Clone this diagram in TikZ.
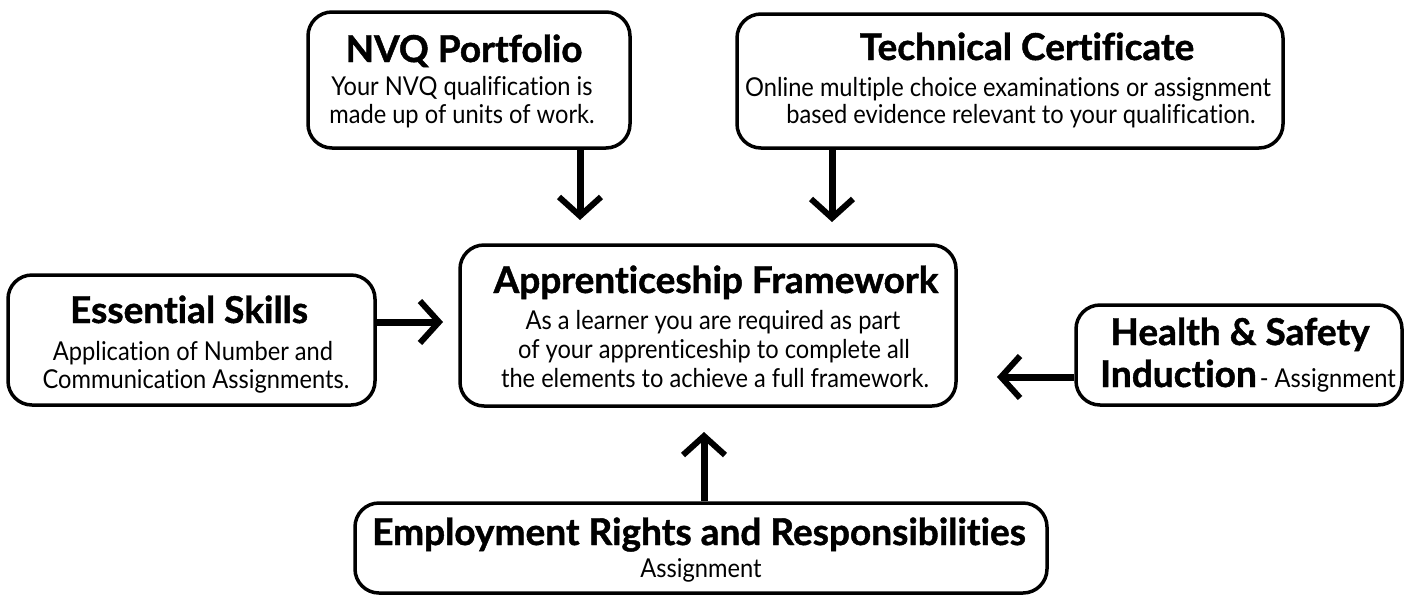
\documentclass[tikz,border=0pt]{standalone}
\usepackage{fontspec}
\setmainfont{Lato}[Ligatures=NoCommon,BoldFeatures={FakeBold=1.2}]
\newfontfamily\bodyfam{Lato}[FakeStretch=0.91,Ligatures=NoCommon]
\usetikzlibrary{arrows.meta}
\newcommand{\ttl}{\fontsize{37}{40}\selectfont\bfseries}
\newcommand{\bdy}{\bodyfam\fontsize{26}{28}\selectfont}
\begin{document}
\begin{tikzpicture}[x=1pt,y=-1pt,
  box/.style={draw, line width=3.5pt, rounded corners=24pt, inner sep=0pt},
  ttlt/.style={anchor=base, inner sep=0pt, font=\ttl},
  bdyt/.style={anchor=base, inner sep=0pt, font=\bdy},
  arr/.style={line width=7pt, -{Straight Barb[length=19pt,width=42pt,line width=6pt]}}]
\useasboundingbox (0,0) rectangle (1405,598);
% boxes
\node[box, minimum width=322pt, minimum height=136pt] (nvq) at (469,80) {};
\node[box, minimum width=546pt, minimum height=134pt] (tech) at (1010,81) {};
\node[box, minimum width=496pt, minimum height=161pt] (app) at (708,325.5) {};
\node[box, minimum width=367pt, minimum height=130pt] (ess) at (191.5,340) {};
\node[box, minimum width=326pt, minimum height=100pt] (hs) at (1239,355) {};
\node[box, minimum width=692pt, minimum height=90pt] (emp) at (701,548) {};
% texts
\node[ttlt] (nvqt) at (464,62) {NVQ Portfolio};
\node[bdyt] (nvq1) at (462,95) {Your NVQ qualification is};
\node[bdyt] (nvq2) at (462,123) {made up of units of work.};
\node[ttlt] (techt) at (1027,60) {Technical Certificate};
\node[bdyt] (tech1) at (1008,96) {Online multiple choice examinations or assignment};
\node[bdyt] (tech2) at (1021,123) {based evidence relevant to your qualification.};
\node[ttlt] (appt) at (716,293) {Apprenticeship Framework};
\node[bdyt] (app1) at (713,329) {As a learner you are required as part};
\node[bdyt] (app2) at (714,358) {of your apprenticeship to complete all};
\node[bdyt] (app3) at (715,387) {the elements to achieve a full framework.};
\node[ttlt] (esst) at (189,323) {Essential Skills};
\node[bdyt] (ess1) at (193,360) {Application of Number and};
\node[bdyt] (ess2) at (196,388) {Communication Assignments.};
\node[ttlt] (hst) at (1240,345) {Health \& Safety};
\node[anchor=base, inner sep=0pt] (hs2) at (1248,387) {{\ttl Induction}\hspace{3pt}{\bdy - Assignment}};
\node[ttlt] (empt) at (699,545) {Employment Rights and Responsibilities};
\node[bdyt] (emp1) at (701,577) {Assignment};
% connectors
\coordinate (a1) at (580,220);
\coordinate (a2) at (832,222);
\coordinate (a3) at (443,322);
\coordinate (a4) at (997,377);
\coordinate (a5) at (704,432);
\draw[arr] (nvq.south -| a1) -- (a1);
\draw[arr] (tech.south -| a2) -- (a2);
\draw[arr] (ess.east |- a3) -- (a3);
\draw[arr] (hs.west |- a4) -- (a4);
\draw[arr] (emp.north -| a5) -- (a5);
\end{tikzpicture}
\end{document}
